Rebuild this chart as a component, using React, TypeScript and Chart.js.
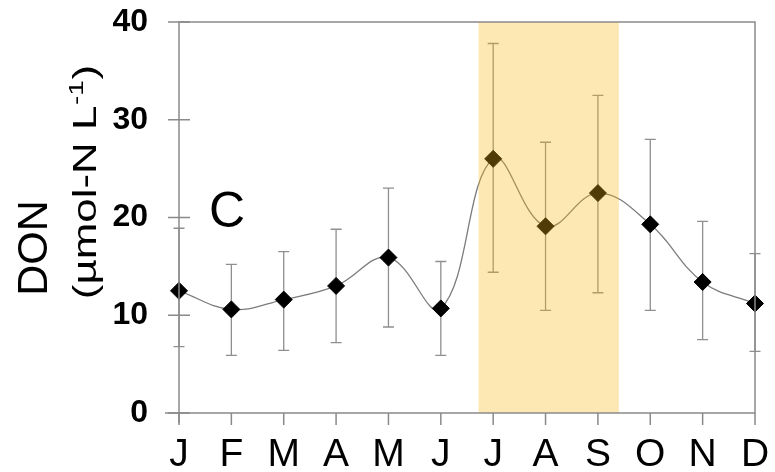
import React, { useEffect, useRef } from "react";
import { Chart, registerables } from "chart.js";

Chart.register(...registerables);

// ---------- data ----------
const months = ["J", "F", "M", "A", "M", "J", "J", "A", "S", "O", "N", "D"];
const donMean = [12.5, 10.6, 11.6, 13.0, 15.9, 10.7, 26.0, 19.1, 22.5, 19.3, 13.4, 11.2];
const donUpper = [18.9, 15.2, 16.5, 18.8, 23.0, 15.5, 37.8, 27.7, 32.5, 28.0, 19.6, 16.3];
const donLower = [6.8, 5.9, 6.4, 7.2, 8.8, 5.9, 14.4, 10.5, 12.3, 10.5, 7.5, 6.3];
const yMin = 0;
const yMax = 40;
const yStep = 10;
const shadeFrom = 5.72; // month-index units
const shadeTo = 8.4;
const panelLabel = "C";
const panelLabelAt = [0.92, 20.4]; // [month index, value]
const yTitleMain = "DON";
const yTitleUnitBase = "(\u00B5mol-N L";
const yTitleUnitSup = "-1";
const yTitleUnitEnd = ")";

const FONT = '"Liberation Sans", Arial, Helvetica, sans-serif';
const FRAME = "#8a8a8a";

const errorBarsPlugin = {
  id: "errorBars",
  beforeDatasetsDraw(chart: any) {
    const { ctx, scales } = chart;
    const xs = scales.x;
    const ys = scales.y;
    ctx.save();
    ctx.strokeStyle = "#8f8f8f";
    ctx.lineWidth = 1.3;
    for (let i = 0; i < donMean.length; i++) {
      const x = xs.getPixelForValue(i);
      const yt = ys.getPixelForValue(donUpper[i]);
      const yb = ys.getPixelForValue(donLower[i]);
      ctx.beginPath();
      ctx.moveTo(x, yt);
      ctx.lineTo(x, yb);
      ctx.moveTo(x - 5.5, yt);
      ctx.lineTo(x + 5.5, yt);
      ctx.moveTo(x - 5.5, yb);
      ctx.lineTo(x + 5.5, yb);
      ctx.stroke();
    }
    ctx.restore();
  },
};

const shadeAndFramePlugin = {
  id: "shadeAndFrame",
  afterDatasetsDraw(chart: any) {
    const { ctx, scales, chartArea } = chart;
    const xs = scales.x;
    const ys = scales.y;
    const { left, right, top, bottom } = chartArea;
    ctx.save();
    const x0 = xs.getPixelForValue(shadeFrom);
    const x1 = xs.getPixelForValue(shadeTo);
    ctx.fillStyle = "rgba(250,185,20,0.32)";
    ctx.fillRect(x0, top, x1 - x0, bottom - top);
    ctx.strokeStyle = FRAME;
    ctx.lineWidth = 1.5;
    ctx.beginPath();
    ctx.moveTo(left - 14, bottom);
    ctx.lineTo(right, bottom);
    ctx.lineTo(right, top);
    ctx.lineTo(left, top);
    ctx.lineTo(left, bottom + 10);
    ctx.stroke();
    ctx.beginPath();
    for (let v = yMin; v <= yMax; v += yStep) {
      const y = ys.getPixelForValue(v);
      ctx.moveTo(left - 11, y);
      ctx.lineTo(left + 11, y);
    }
    for (let i = 0; i < months.length; i++) {
      const x = xs.getPixelForValue(i);
      ctx.moveTo(x, bottom);
      ctx.lineTo(x, bottom + 12);
    }
    ctx.stroke();
    ctx.restore();
  },
};

const textPlugin = {
  id: "texts",
  afterDraw(chart: any) {
    const { ctx, scales } = chart;
    ctx.save();
    ctx.fillStyle = "#000";
    ctx.font = `50px ${FONT}`;
    ctx.textAlign = "center";
    ctx.textBaseline = "middle";
    ctx.fillText(
      panelLabel,
      scales.x.getPixelForValue(panelLabelAt[0]),
      scales.y.getPixelForValue(panelLabelAt[1])
    );
    ctx.save();
    ctx.translate(47, 248);
    ctx.rotate(-Math.PI / 2);
    ctx.font = `43px ${FONT}`;
    ctx.textAlign = "center";
    ctx.textBaseline = "alphabetic";
    ctx.fillText(yTitleMain, 0, 0);
    ctx.restore();
    ctx.save();
    ctx.translate(96, 182);
    ctx.rotate(-Math.PI / 2);
    const stretch = 1.33;
    ctx.scale(stretch, 1);
    ctx.textAlign = "left";
    ctx.textBaseline = "alphabetic";
    const big = `33px ${FONT}`;
    const small = `21px ${FONT}`;
    ctx.font = big;
    const w1 = ctx.measureText(yTitleUnitBase).width;
    const w3 = ctx.measureText(yTitleUnitEnd).width;
    ctx.font = small;
    const w2 = ctx.measureText(yTitleUnitSup).width;
    const total = w1 + w2 + w3 + 1;
    let cx = -total / 2;
    ctx.font = big;
    ctx.fillText(yTitleUnitBase, cx, 0);
    cx += w1 + 0.5;
    ctx.font = small;
    ctx.fillText(yTitleUnitSup, cx, -13);
    cx += w2 + 0.5;
    ctx.font = big;
    ctx.fillText(yTitleUnitEnd, cx, 0);
    ctx.restore();
    ctx.restore();
  },
};

const bgPlugin = {
  id: "bg",
  beforeDraw(chart: any) {
    const { ctx, width, height } = chart;
    ctx.save();
    ctx.fillStyle = "#fff";
    ctx.fillRect(0, 0, width, height);
    ctx.restore();
  },
};

export default function App() {
  const ref = useRef<HTMLCanvasElement | null>(null);
  useEffect(() => {
    if (!ref.current) return;
    const chart = new Chart(ref.current, {
      type: "line",
      data: {
        labels: months,
        datasets: [
          {
            data: donMean,
            borderColor: "#7c7c7c",
            borderWidth: 1.3,
            tension: 0.4,
            pointStyle: "rectRot",
            pointRadius: 8.5,
            pointBackgroundColor: "#000",
            pointBorderColor: "#000",
            pointBorderWidth: 1,
            fill: false,
            clip: false as any,
          },
        ],
      },
      options: {
        responsive: false,
        animation: false,
        events: [],
        layout: { padding: { top: 22, right: 20, left: 0, bottom: 0 } },
        plugins: {
          legend: { display: false },
          tooltip: { enabled: false },
          title: { display: false },
        },
        scales: {
          x: {
            type: "category",
            offset: false,
            grid: { display: false, drawTicks: false },
            border: { display: false },
            ticks: {
              color: "#000",
              font: { family: FONT, size: 39 },
              padding: 19,
              autoSkip: false,
              maxRotation: 0,
              minRotation: 0,
            },
            afterFit: (s: any) => {
              s.height = 59;
              s.paddingLeft = 0;
              s.paddingRight = 0;
            },
          },
          y: {
            min: yMin,
            max: yMax,
            grid: { display: false, drawTicks: false },
            border: { display: false },
            ticks: {
              stepSize: yStep,
              color: "#000",
              font: { family: FONT, size: 32, weight: "bold" },
              padding: 31,
            },
            afterFit: (s: any) => {
              s.width = 179;
              s.paddingTop = 0;
              s.paddingBottom = 0;
            },
          },
        },
      },
      plugins: [bgPlugin, errorBarsPlugin, shadeAndFramePlugin, textPlugin],
    });
    return () => chart.destroy();
  }, []);
  return (
    <div style={{ position: "absolute", left: 0, top: 0, width: 775, height: 472 }}>
      <canvas ref={ref} width={775} height={472} style={{ display: "block" }} />
    </div>
  );
}
